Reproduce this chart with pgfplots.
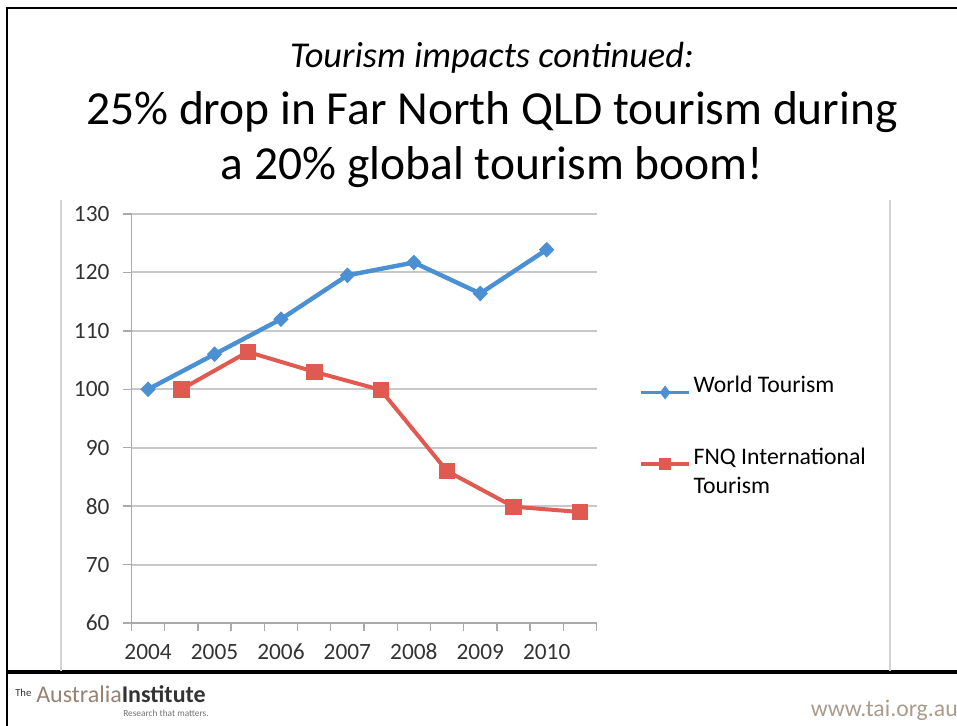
\documentclass[border=0pt]{standalone}
\usepackage{pgfplots}
\pgfplotsset{compat=1.18}
\usepackage{fontspec}
\setmainfont{Carlito}
\definecolor{wblue}{RGB}{74,144,210}
\definecolor{fred}{RGB}{224,90,82}
\definecolor{gridc}{RGB}{200,200,200}
\definecolor{axc}{RGB}{170,170,170}
\definecolor{tan}{RGB}{150,130,115}
\definecolor{urlc}{RGB}{170,155,140}
\begin{document}
\begin{tikzpicture}[x=0.75pt,y=0.75pt]
\path[use as bounding box] (0,0) rectangle (957,725);
% slide frame
\draw[line width=2pt] (7,-5) -- (7,717) -- (970,717);
\draw[line width=2.6pt] (7,53) -- (970,53);
% chart frame
\draw[gridc!80,line width=1pt] (61,54) -- (61,525);
\draw[gridc!80,line width=1pt] (890,54) -- (890,525);
% titles
\node[font=\fontsize{27.3}{30}\selectfont\itshape, anchor=base] at (492,725-68) {Tourism impacts continued:};
\node[font=\fontsize{35.6}{40}\selectfont, anchor=base] at (492,725-125) {25\% drop in Far North QLD tourism during};
\node[font=\fontsize{35.6}{40}\selectfont, anchor=base] at (492,725-180) {a 20\% global tourism boom!};
% footer
\node[anchor=base west, inner sep=0pt, font=\fontsize{8}{9}\selectfont, text=black!80] at (15,725-696) {The};
\node[anchor=base west, inner sep=0pt, font=\fontsize{18}{20}\selectfont] at (36,725-703) {\textcolor{tan}{Australia}\textcolor{black!80}{\bfseries Institute}};
\node[anchor=base west, inner sep=0pt, font=\fontsize{7}{8}\selectfont, text=black!55] at (123,725-716) {Research that matters.};
\node[anchor=base east, inner sep=0pt, font=\fontsize{17.8}{20}\selectfont, text=urlc] at (958,725-716) {www.tai.org.au};
\begin{axis}[
  at={(98.625pt,76.5pt)}, anchor=south west, scale only axis,
  width=348.75pt, height=306.75pt,
  xmin=-0.5, xmax=13.5, ymin=60, ymax=130,
  ytick={60,70,...,130},
  xtick={0,2,...,12},
  xticklabels={2004,2005,2006,2007,2008,2009,2010},
  minor xtick={-0.5,0.5,...,13.5},
  major x tick style={draw=none},
  minor tick length=6pt, major tick length=6pt,
  tick align=outside,
  tick style={axc, line width=1pt},
  axis x line*=bottom, axis y line*=left,
  axis line style={axc, line width=1.2pt},
  ymajorgrids, grid style={gridc, line width=1.5pt},
  tick label style={font=\fontsize{17.5}{19}\selectfont, text=black!80},
  /pgf/number format/assume math mode=true,
  yticklabel style={xshift=-7pt},
  xticklabel style={yshift=-6pt, text height=12pt, text depth=0pt},
  clip=false,
  legend style={at={(1.0914,0.611)}, anchor=north west, draw=none, fill=none,
    font=\fontsize{17.8}{21.75}\selectfont, inner sep=0pt, row sep=36pt,
    cells={anchor=base west, inner xsep=1pt}},
  legend image code/.code={\draw[line width=2.8pt,mark repeat=2,mark phase=2,mark options={scale=0.55}] plot coordinates {(0pt,0pt)(18pt,0pt)(36pt,0pt)};},
]
\addplot[wblue, line width=3.3pt, mark=diamond*, mark size=5.3pt, mark options={xscale=1.3, line width=0.8pt}]
  coordinates {(0,100)(2,106)(4,112)(6,119.5)(8,121.7)(10,116.4)(12,123.9)};
\addlegendentry{World Tourism}
\addplot[fred, line width=3pt, mark=square*, mark size=5.8pt, mark options={line width=0.5pt}]
  coordinates {(1,100)(3,106.4)(5,103)(7,99.9)(9,86)(11,79.9)(13,79)};
\addlegendentry{\parbox[t]{150pt}{FNQ International\\Tourism}}
\end{axis}
\end{tikzpicture}
\end{document}
